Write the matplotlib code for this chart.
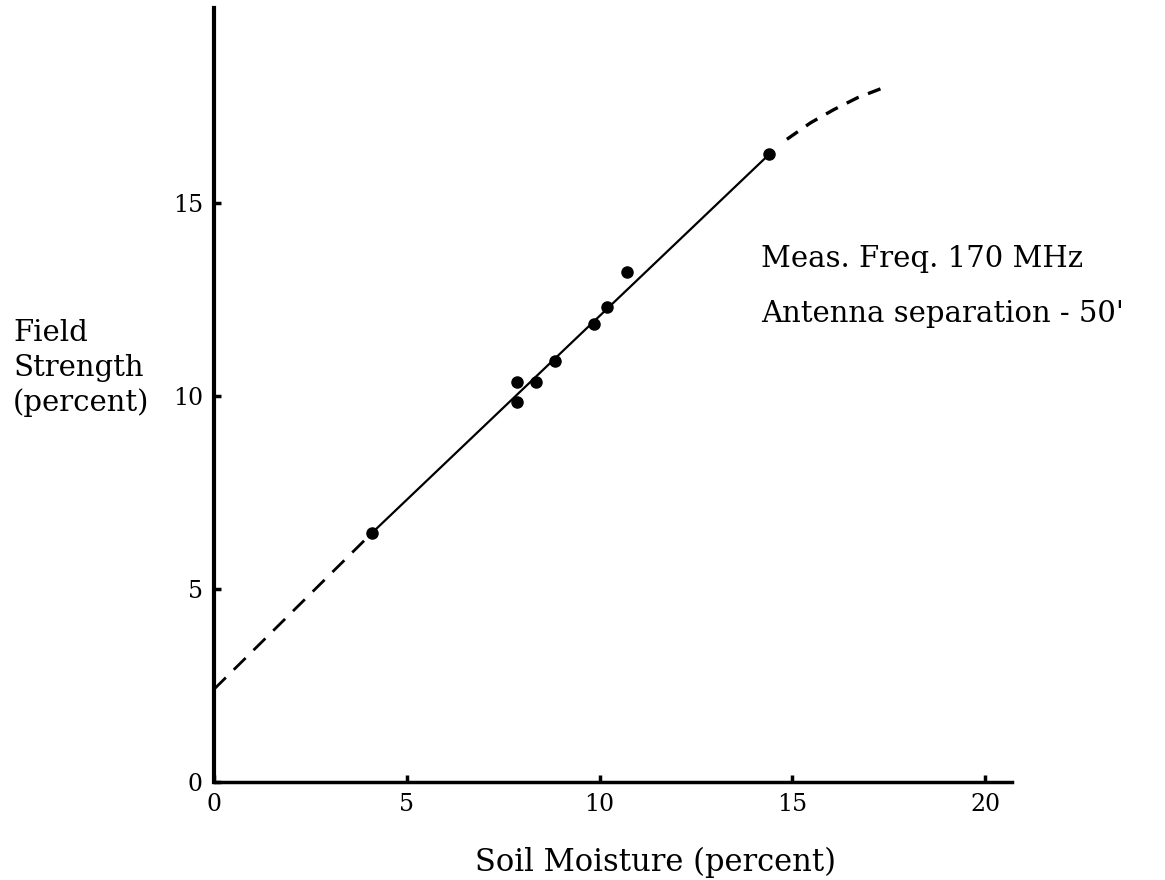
# Field strength vs soil moisture, redrawn from a scanned figure

import numpy as np
import matplotlib.pyplot as plt

# measured points (soil moisture %, field strength %)
moisture = [4.1, 7.85, 7.85, 8.35, 8.85, 9.85, 10.2, 10.7, 14.4]
strength = [6.45, 9.85, 10.35, 10.35, 10.9, 11.85, 12.3, 13.2, 16.25]

# fitted line, solid part between first and last point
fit_x = [4.1, 14.4]
fit_y = [6.45, 16.25]

# dashed extrapolation below the data
low_x = [0.0, 4.1]
low_y = [2.4, 6.45]

# dashed curve above the data
high_x = [14.86, 15.48, 16.08, 16.7, 17.3]
high_y = [16.64, 17.07, 17.41, 17.72, 17.95]

xticks = [0, 5, 10, 15, 20]
yticks = [0, 5, 10, 15]

plt.rcParams['font.family'] = 'DejaVu Serif'

fig = plt.figure(figsize=(11.65, 8.8), dpi=100)
ax = fig.add_axes([0.1837, 0.1114, 0.685, 0.88])

ax.plot(fit_x, fit_y, 'k-', lw=1.6)
ax.plot(low_x, low_y, 'k', ls=(0, (6, 4)), lw=2.0)
ax.plot(high_x, high_y, 'k', ls=(0, (4, 3)), lw=2.4)
ax.plot(moisture, strength, 'ko', ms=8, clip_on=False)

ax.set_xlim(0, 20.7)
ax.set_ylim(0, 20.05)
ax.set_xticks(xticks)
ax.set_yticks(yticks)
ax.tick_params(direction='in', length=5, width=2.5, labelsize=17, pad=8)

for s in ['top', 'right']:
    ax.spines[s].set_visible(False)
ax.spines['left'].set_linewidth(3)
ax.spines['bottom'].set_linewidth(2.5)

# axis labels placed by hand like the original
fig.text(475/1165, 1 - 871/880, 'Soil Moisture (percent)', fontsize=22,
         ha='left', va='baseline')
for line, yb in zip(['Field', 'Strength', '(percent)'], [341, 376, 411]):
    fig.text(13/1165, 1 - yb/880, line, fontsize=21, ha='left', va='baseline')

ax.text(14.18, 13.34, 'Meas. Freq. 170 MHz', fontsize=21, va='baseline')
ax.text(14.18, 11.9, "Antenna separation - 50'", fontsize=21, va='baseline')

plt.savefig('out.png', dpi=100)
